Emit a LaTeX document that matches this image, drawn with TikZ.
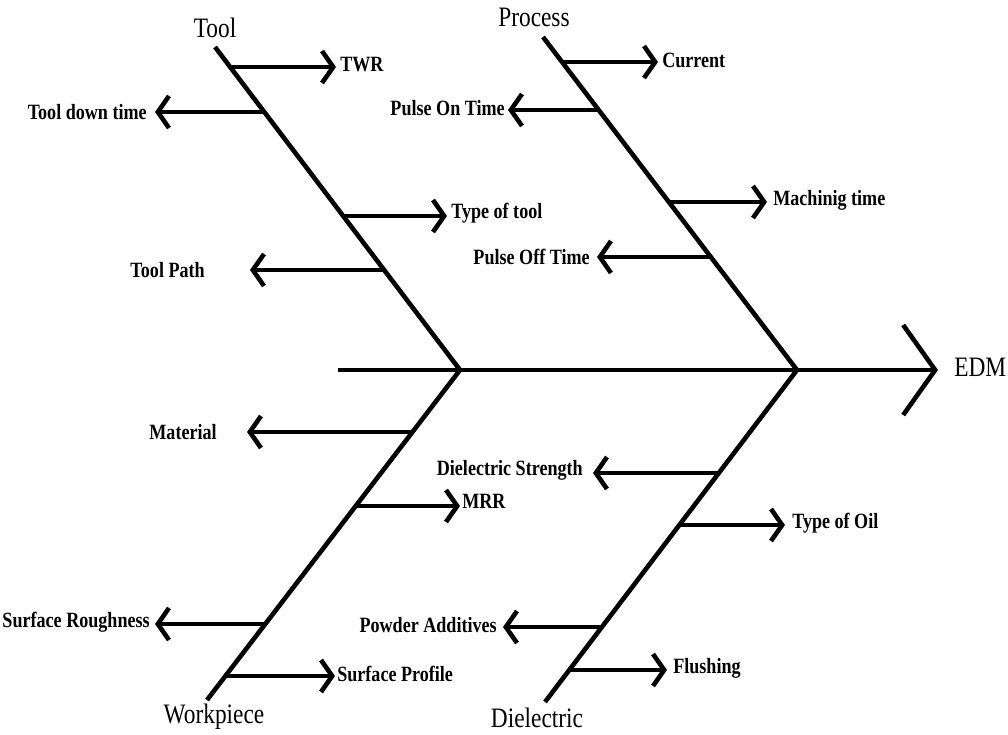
\documentclass[tikz,border=0pt]{standalone}
\usepackage{fontspec}
\setmainfont{Liberation Serif}
\newfontfamily\lblfont[FakeStretch=0.83]{Liberation Serif}
\usetikzlibrary{arrows.meta, positioning}
\tikzset{
	bone/.style={line width=1.15mm},
	spine/.style={line width=1.15mm, -{Straight Barb[length=8mm, width=22.5mm]}},
	branch/.style={line width=1.15mm, -{Straight Barb[length=2.8mm, width=8mm]}},
	head/.style={font=\lblfont\fontsize{20}{22}\selectfont, inner sep=0pt},
	cause/.style={font=\lblfont\bfseries\fontsize{15.5}{18}\selectfont, inner sep=0pt},
}

\begin{document}
\begin{tikzpicture}[x=0.025cm, y=-0.025cm]
	\useasboundingbox (0,0) rectangle (1008,735);
	% bones
	\coordinate (jTool) at (460,370);
	\coordinate (jProc) at (797,370);
	\coordinate (tail) at (338,370);
	\coordinate (tip) at (938,370);
	\coordinate (topTool) at (215,47);
	\coordinate (topProc) at (543,37);
	\coordinate (botWork) at (207,700);
	\coordinate (botDiel) at (545,702);
	\draw[spine] (tail) -- (tip);
	\draw[bone] (topTool) -- (jTool) -- (botWork);
	\draw[bone] (topProc) -- (jProc) -- (botDiel);
	% category labels
	\node[head] (lTool) at (215,28) {Tool};
	\node[head] (lProc) at (534,17) {Process};
	\node[head] (lWork) at (214,717) {Workpiece};
	\node[head] (lDiel) at (537,718) {Dielectric};
	\node[head, anchor=west] (lEDM) at (954,367) {EDM};
	% causes
	\foreach \nm/\sx/\tx/\y/\lx/\ly/\anc/\txt in {
		twr/232/336/67/340/65/west/TWR,
		down/264/155/112/147/112/east/Tool down time,
		type/344/447/216/451/213/west/Type of tool,
		path/384/250/270/205/270/east/Tool Path,
		cur/562/658/62/662/60/west/Current,
		pon/599/508/110/505/108/east/Pulse On Time,
		mach/669/767/202/773/200/west/Machinig time,
		poff/711/597/257/590/257/east/Pulse Off Time,
		mat/412/247/432/217/432/east/Material,
		mrr/356/460/506/462/501/west/MRR,
		srou/265/155/624/150/622/east/Surface Roughness,
		spro/225/335/676/337/674/west/Surface Profile,
		dstr/719/593/473/583/470/east/Dielectric Strength,
		oil/679/785/525/792/523/west/Type of Oil,
		pow/602/503/627/497/625/east/Powder Additives,
		flu/569/667/670/673/668/west/Flushing} {
		\coordinate (s\nm) at (\sx,\y);
		\coordinate (t\nm) at (\tx,\y);
		\draw[branch] (s\nm) -- (t\nm);
		\node[cause, anchor=\anc] (l\nm) at (\lx,\ly) {\txt};
	}
\end{tikzpicture}
\end{document}
